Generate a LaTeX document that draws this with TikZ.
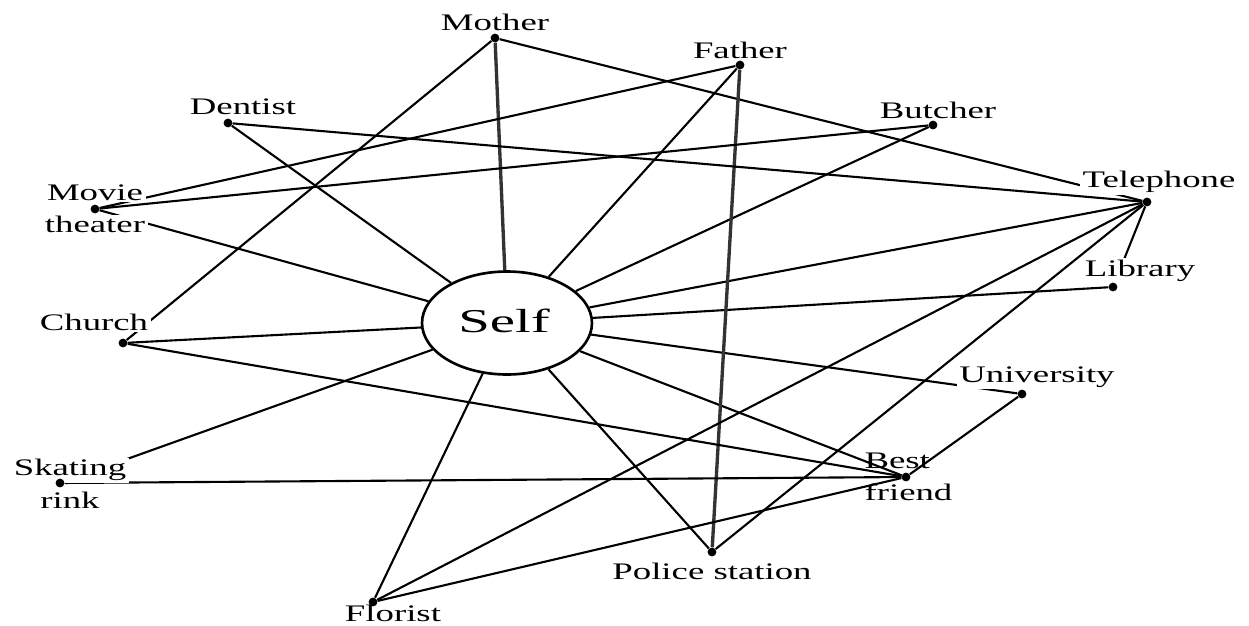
\documentclass[tikz,border=0pt]{standalone}
\usepackage{fontspec}
\setmainfont{Liberation Serif}
\usepackage{tikz}
\usetikzlibrary{shapes.geometric}
\pgfdeclarelayer{edgelayer}
\pgfdeclarelayer{labellayer}
\pgfdeclarelayer{nodelayer}
\pgfsetlayers{edgelayer,labellayer,nodelayer,main}
\setlength{\fboxsep}{1pt}
\newcommand{\wbox}[1]{\colorbox{white}{#1}}
\tikzstyle{edge}=[draw=black, line width=1.2pt]
\tikzstyle{heavyedge}=[draw=black!80, line width=1.9pt]
\tikzstyle{place}=[circle, fill=black, inner sep=0pt, minimum size=5pt]
\tikzstyle{lbl}=[fill=white, inner sep=1pt, xscale=1.55, align=center, font=\fontsize{13.5}{18.5}\selectfont]
\tikzstyle{twolbl}=[inner sep=0pt, xscale=1.55, align=center, font=\fontsize{13.5}{18.5}\selectfont]
\tikzstyle{selfnode}=[ellipse, draw=black, line width=1.5pt, fill=white, minimum width=3.4cm, minimum height=2.06cm, inner sep=0pt]

\begin{document}
\begin{tikzpicture}[x=0.02cm, y=-0.02cm]
	\useasboundingbox (0,0) rectangle (1249,626);
	\begin{pgfonlayer}{nodelayer}
		\node [style=selfnode] (self) at (507, 323) {};
		\node [font=\fontsize{19}{20}\selectfont, xscale=1.7] (selftext) at (504, 321) {Self};
		\node [style=place] (mother) at (495, 38) {};
		\node [style=place] (father) at (740, 65) {};
		\node [style=place] (dentist) at (228, 123) {};
		\node [style=place] (butcher) at (933, 125) {};
		\node [style=place] (phone) at (1147, 202) {};
		\node [style=place] (library) at (1113, 287) {};
		\node [style=place] (movie) at (95, 209) {};
		\node [style=place] (church) at (123, 343) {};
		\node [style=place] (skating) at (60, 483) {};
		\node [style=place] (florist) at (373, 602) {};
		\node [style=place] (police) at (712, 552) {};
		\node [style=place] (best) at (906, 477) {};
		\node [style=place] (univ) at (1022, 394) {};
	\end{pgfonlayer}
	\begin{pgfonlayer}{labellayer}
		\node [style=lbl] (mother-l) at (495, 22) {Mother};
		\node [style=lbl] (father-l) at (740, 50) {Father};
		\node [style=lbl] (dentist-l) at (243, 107) {Dentist};
		\node [style=lbl] (butcher-l) at (938, 110) {Butcher};
		\node [style=lbl] (phone-l) at (1159, 182) {Telephone};
		\node [style=lbl] (library-l) at (1140, 271) {Library};
		\node [style=twolbl] (movie-l) at (95, 209) {\wbox{Movie}\\\wbox{theater}};
		\node [style=lbl] (church-l) at (94, 322) {Church};
		\node [style=twolbl] (skating-l) at (70, 484) {\wbox{Skating}\\\wbox{rink}};
		\node [style=lbl] (florist-l) at (393, 613) {Florist};
		\node [style=lbl] (police-l) at (712, 571) {Police station};
		\node [style=twolbl, align=left, anchor=west] (best-l) at (864, 477) {Best\\friend};
		\node [style=lbl] (univ-l) at (1037, 377) {University};
	\end{pgfonlayer}
	\begin{pgfonlayer}{edgelayer}
		\draw [style=heavyedge] (self) to (mother);
		\draw [style=edge] (self) to (father);
		\draw [style=edge] (self) to (dentist);
		\draw [style=edge] (self) to (movie);
		\draw [style=edge] (self) to (church);
		\draw [style=edge] (self) to (skating);
		\draw [style=edge] (self) to (florist);
		\draw [style=edge] (self) to (police);
		\draw [style=edge] (self) to (best);
		\draw [style=edge] (self) to (univ);
		\draw [style=edge] (self) to (library);
		\draw [style=edge] (self) to (phone);
		\draw [style=edge] (self) to (butcher);
		\draw [style=edge] (mother) to (church);
		\draw [style=edge] (mother) to (phone);
		\draw [style=edge] (father) to (movie);
		\draw [style=heavyedge] (father) to (police);
		\draw [style=edge] (movie) to (butcher);
		\draw [style=edge] (dentist) to (phone);
		\draw [style=edge] (florist) to (phone);
		\draw [style=edge] (florist) to (best);
		\draw [style=edge] (police) to (phone);
		\draw [style=edge] (church) to (best);
		\draw [style=edge] (skating) to (best);
		\draw [style=edge] (best) to (univ);
		\draw [style=edge] (phone) to (library);
	\end{pgfonlayer}
\end{tikzpicture}
\end{document}
